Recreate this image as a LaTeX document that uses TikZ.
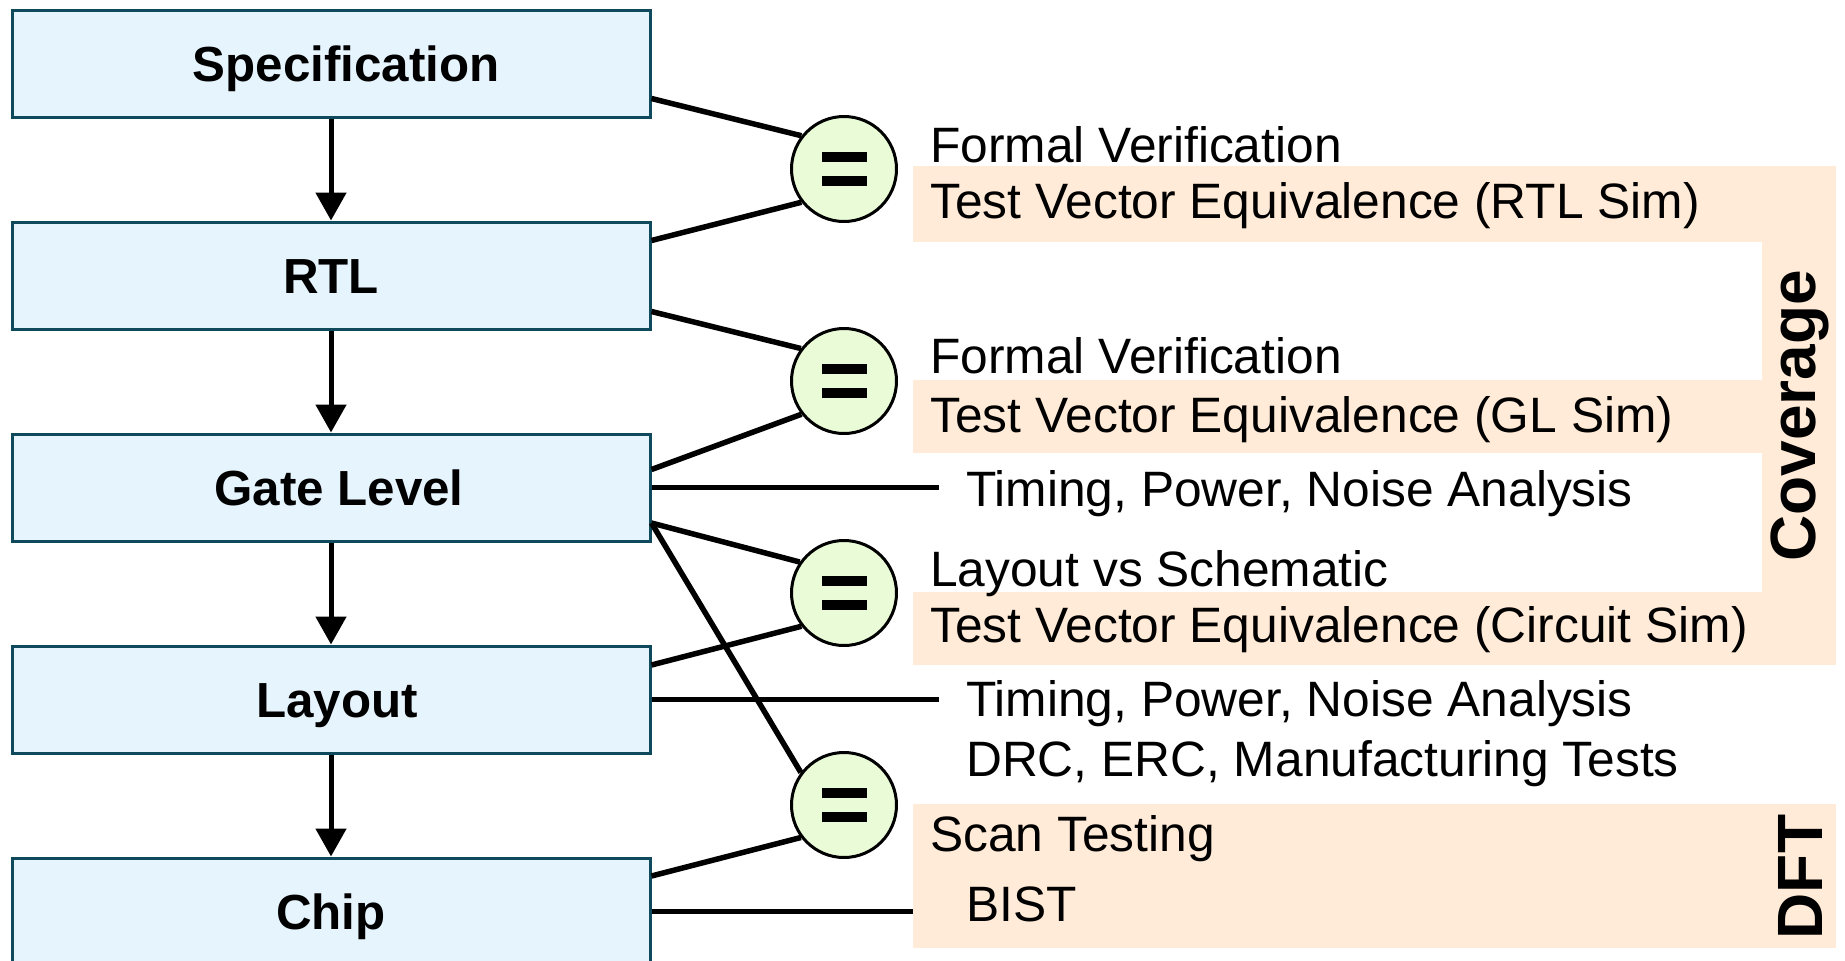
\documentclass[tikz,border=0pt]{standalone}
\usepackage{fontspec}
\setmainfont{Liberation Sans}
\usetikzlibrary{arrows.meta,calc}
\definecolor{stageblue}{HTML}{E6F4FE}
\definecolor{stageedge}{HTML}{0F4A5C}
\definecolor{eqgreen}{HTML}{E9FCD7}
\definecolor{peach}{HTML}{FFEBD7}
\begin{document}
\begin{tikzpicture}[x=1pt,y=-1pt,
  stage/.style={draw=stageedge, line width=3pt, fill=stageblue,
    minimum width=638pt, minimum height=107pt, inner sep=0pt,
    text height=35pt, text depth=0pt,
    font=\fontsize{49.3}{58}\selectfont\bfseries},
  eqnode/.style={circle, draw=black, line width=3pt, fill=eqgreen,
    minimum size=105pt, inner sep=0pt},
  link/.style={line width=5.5pt},
  flow/.style={line width=5pt, -{Triangle[length=28pt,width=30pt]}},
  lbl/.style={anchor=base west, inner sep=0pt, font=\fontsize{49.7}{58}\selectfont},
  tag/.style={rotate=90, inner sep=0pt, font=\fontsize{64}{72}\selectfont\bfseries},
  band/.style={fill=peach, draw=none}]

\useasboundingbox (0,0) rectangle (1845,961);
\fill[white] (0,0) rectangle (1845,961);

% shaded groups behind the check lists
\fill[band] (913,166) rectangle (1836,242);
\fill[band] (1762,166) rectangle (1836,665);
\fill[band] (913,380) rectangle (1762,453);
\fill[band] (913,592) rectangle (1836,665);
\fill[band] (913,804) rectangle (1836,948);

% design stages
\node[stage] (spec) at (331,63.5)  {\hspace*{30pt}Specification};
\node[stage] (rtl)  at (331,275.5) {RTL};
\node[stage] (gate) at (331,487.5) {\hspace*{16pt}Gate Level};
\node[stage] (lay)  at (331,699.5) {\hspace*{12pt}Layout};
\node[stage] (chip) at (331,911.5) {Chip};

\draw[flow] (spec.south) -- (rtl.north);
\draw[flow] (rtl.south) -- (gate.north);
\draw[flow] (gate.south) -- (lay.north);
\draw[flow] (lay.south) -- (chip.north);

% equivalence checks
\foreach \n/\y in {eqa/169,eqb/381,eqc/593,eqd/805}{
  \node[eqnode] (\n) at (844,\y) {};
  \fill ($(\n)+(-22,-16.7)$) rectangle ($(\n)+(23,-6.7)$);
  \fill ($(\n)+(-22,6.7)$) rectangle ($(\n)+(23,16.7)$);
}

% connectors
\draw[link] ($(spec.east)+(0,35)$) -- (eqa.142);
\draw[link] ($(rtl.east)+(0,-35)$) -- (eqa.218);
\draw[link] ($(rtl.east)+(0,36)$) -- (eqb.143);
\draw[link] ($(gate.east)+(0,-18)$) -- (eqb.218);
\draw[link] ($(gate.east)+(0,35.5)$) -- (eqc.145);
\draw[link] ($(gate.east)+(0,35.5)$) -- (eqd.143);
\draw[link] ($(lay.east)+(0,-34.5)$) -- (eqc.218);
\draw[link] ($(chip.east)+(0,-35.5)$) -- (eqd.217);

\coordinate (gateend) at (939,487.5);
\coordinate (layend)  at (939,699.5);
\coordinate (chipend) at (913,911.5);
\draw[link] (gate.east) -- (gateend);
\draw[link] (lay.east) -- (layend);
\draw[link] (chip.east) -- (chipend);

% check descriptions
\node[lbl] (fva)  at (930,162) {Formal Verification};
\node[lbl] (tva)  at (930,218) {Test Vector Equivalence (RTL Sim)};
\node[lbl] (fvb)  at (930,373) {Formal Verification};
\node[lbl] (tvb)  at (930,432) {Test Vector Equivalence (GL Sim)};
\node[lbl] (tpa)  at (966,506) {Timing, Power, Noise Analysis};
\node[lbl] (lvs)  at (930,586) {Layout vs Schematic};
\node[lbl] (tvc)  at (930,642) {Test Vector Equivalence (Circuit Sim)};
\node[lbl] (tpb)  at (966,716) {Timing, Power, Noise Analysis};
\node[lbl] (drc)  at (966,776) {DRC, ERC, Manufacturing Tests};
\node[lbl] (scan) at (930,851) {Scan Testing};
\node[lbl] (bist) at (966,921) {BIST};

\node[tag] (cov) at (1800,416) {Coverage};
\node[tag] (dft) at (1800,877) {DFT};
\end{tikzpicture}
\end{document}
